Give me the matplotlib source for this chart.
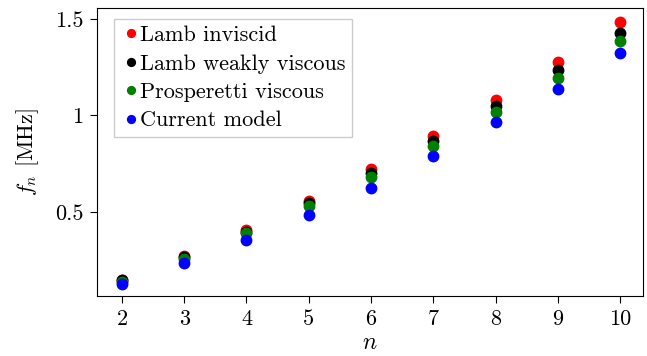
import matplotlib
matplotlib.use('Agg')
import matplotlib.pyplot as plt

plt.rcParams['font.family'] = 'serif'
plt.rcParams['font.serif'] = ['cmr10']
plt.rcParams['mathtext.fontset'] = 'cm'
plt.rcParams['axes.formatter.use_mathtext'] = True

n = [2, 3, 4, 5, 6, 7, 8, 9, 10]
lamb_inviscid = [0.148, 0.272, 0.407, 0.557, 0.721, 0.894, 1.080, 1.277, 1.483]
lamb_weak = [0.145, 0.265, 0.398, 0.545, 0.700, 0.868, 1.046, 1.234, 1.429]
prosperetti = [0.139, 0.258, 0.390, 0.531, 0.683, 0.842, 1.015, 1.196, 1.386]
current = [0.127, 0.237, 0.355, 0.484, 0.626, 0.790, 0.963, 1.139, 1.325]

series_labels = ['Lamb inviscid', 'Lamb weakly viscous',
                 'Prosperetti viscous', 'Current model']
series_colors = ['#ff0000', '#000000', '#008000', '#0000ff']
yticks = [0.5, 1.0, 1.5]
yticklabels = ['0.5', '1', '1.5']

fig = plt.figure(figsize=(6.47, 3.56), dpi=100)
ax = fig.add_axes([0.150, 0.169, 0.844, 0.809])

for vals, lab, col in zip([lamb_inviscid, lamb_weak, prosperetti, current],
                          series_labels, series_colors):
    ax.plot(n, vals, 'o', color=col, markersize=7.5, label=lab)

ax.set_xlim(1.6, 10.37)
ax.set_ylim(0.065, 1.557)
ax.set_xticks(n)
ax.set_xticklabels([str(v) for v in n])
ax.set_yticks(yticks)
ax.set_yticklabels(yticklabels)
ax.tick_params(labelsize=16, direction='out', length=5, pad=5)
ax.set_xlabel('$n$', fontsize=17, labelpad=2)
ax.set_ylabel('$f_n$ [MHz]', fontsize=16, labelpad=10)

leg = ax.legend(loc='upper left', fontsize=16, markerscale=0.75,
                handletextpad=-0.1, handlelength=1.0, borderpad=0.3,
                labelspacing=0.4, fancybox=False, framealpha=1,
                edgecolor='#cccccc', borderaxespad=0.5,
                bbox_to_anchor=(0.01, 1.0))
leg.get_frame().set_linewidth(1.0)

plt.savefig('out.png', dpi=100)
